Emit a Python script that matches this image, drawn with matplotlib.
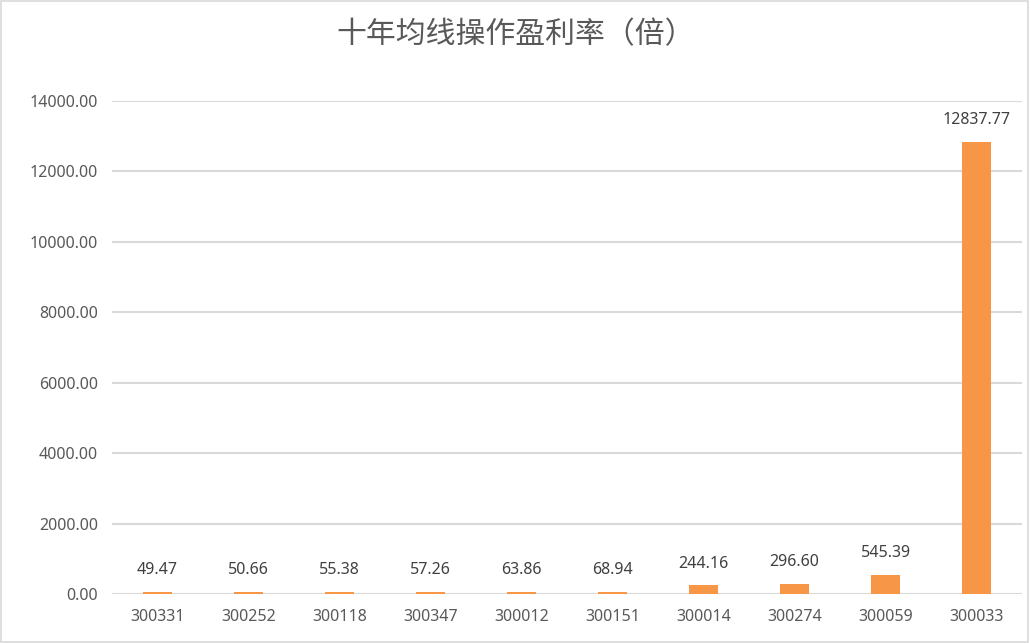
import matplotlib.pyplot as plt
import matplotlib.patches as mpatches

plt.rcParams['font.family'] = ['Noto Sans CJK SC', 'DejaVu Sans']

# Stock codes and their ten-year profit ratio
codes = ["300331", "300252", "300118", "300347", "300012",
         "300151", "300014", "300274", "300059", "300033"]
ratios = [49.47, 50.66, 55.38, 57.26, 63.86, 68.94, 244.16, 296.60, 545.39, 12837.77]
y_ticks = [0, 2000, 4000, 6000, 8000, 10000, 12000, 14000]

fig = plt.figure(figsize=(10.31, 6.43), dpi=100)
ax = fig.add_axes([112 / 1031, 1 - 594 / 643, 910 / 1031, 493 / 643])

x = range(len(codes))
ax.bar(x, ratios, width=0.315, color="#F79646", zorder=3)

for i, v in enumerate(ratios):
    ax.annotate(f"{v:.2f}", (i, v), xytext=(0, 10), textcoords="offset points",
                ha="center", va="bottom", fontsize=11.5, color="#404040",
                family="Noto Sans")

ax.set_xlim(-0.5, len(codes) - 0.5)
ax.set_ylim(0, 14000)
ax.set_yticks(y_ticks)
ax.set_yticklabels([f"{t:.2f}" for t in y_ticks], family="Noto Sans")
ax.set_xticks(list(x))
ax.set_xticklabels(codes, family="Noto Sans")
ax.tick_params(axis="both", length=0, labelsize=11.5, labelcolor="#595959")
ax.tick_params(axis="y", pad=10)
ax.tick_params(axis="x", pad=11)
ax.grid(axis="y", color="#D9D9D9", linewidth=1.5, zorder=0)
for s in ax.spines.values():
    s.set_visible(False)

fig.text(0.5, 1 - 35 / 643, "十年均线操作盈利率（倍）", ha="center", va="center",
         fontsize=21.5, color="#595959")

# chart border
fig.patches.append(mpatches.Rectangle((0.001, 0.002), 0.996, 0.996, transform=fig.transFigure,
                                      fill=False, edgecolor="#D9D9D9", linewidth=1.2))

fig.savefig("out.png", dpi=100)
